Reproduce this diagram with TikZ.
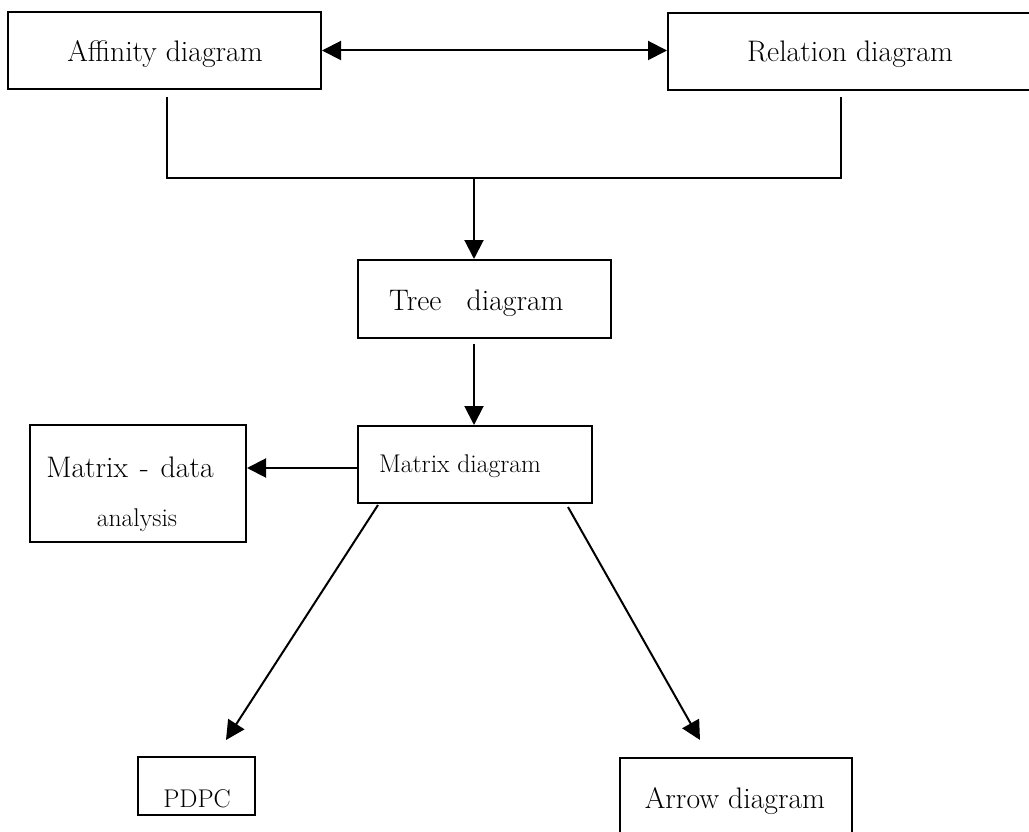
\documentclass[tikz,border=0pt]{standalone}
\usetikzlibrary{arrows.meta}
\begin{document}
\begin{tikzpicture}[x=1pt,y=-1pt,
  box/.style={draw, line width=2pt, inner sep=0pt, rectangle},
  big/.style={inner sep=0pt, font=\fontsize{29.7}{34}\selectfont},
  small/.style={inner sep=0pt, font=\fontsize{25.6}{30}\selectfont},
  conn/.style={line width=2pt},
  arr/.style={conn, -{Triangle[length=19pt,width=19pt]}},
  darr/.style={conn, {Triangle[length=19pt,width=19pt]}-{Triangle[length=19pt,width=19pt]}}
]
\useasboundingbox (0,0) rectangle (1029,832);
\clip (0,0) rectangle (1029,832);
\fill[white] (0,0) rectangle (1029,832);
% boxes
\node[box, minimum width=313pt, minimum height=77pt] (aff) at (164.5,50.5) {};
\node[box, minimum width=370pt, minimum height=77pt] (rel) at (853,51.5) {};
\node[box, minimum width=253pt, minimum height=78pt] (tree) at (484.5,299) {};
\node[box, minimum width=234pt, minimum height=77pt] (mat) at (475,464.5) {};
\node[box, minimum width=216pt, minimum height=117pt] (mda) at (138,483.5) {};
\node[box, minimum width=117pt, minimum height=58pt] (pdpc) at (196.5,786) {};
\node[box, minimum width=232pt, minimum height=92pt] (arw) at (736,804) {};
% texts
\node[big, anchor=base] (taff) at (165,62) {Affinity diagram};
\node[big, anchor=base] (trel) at (850,62) {Relation diagram};
\node[big, anchor=base west] (ttree) at (389,310) {Tree\hspace{0.55em} diagram};
\node[small, anchor=base] (tmat) at (460,472) {Matrix diagram};
\node[big, anchor=base] (tmda) at (130,477) {Matrix\hspace{0.4em}-\hspace{0.4em}data};
\node[small, anchor=base] (tana) at (137,526) {analysis};
\node[small, anchor=base] (tpd) at (197,807) {PDPC};
\node[big, anchor=base] (tarw) at (735,808) {Arrow diagram};
% connector points
\coordinate (a1) at (167,97);
\coordinate (r1) at (841,97);
\coordinate (j) at (474,178);
\coordinate (m1) at (378,505);
\coordinate (m2) at (568,507);
\coordinate (p1) at (226,740);
\coordinate (w1) at (700,740);
% connectors
\draw[darr] (aff.east) -- (aff.east -| rel.west);
\draw[conn] (a1) |- (j) -| (r1);
\draw[arr] (j) -- (j |- tree.north);
\draw[arr] (j |- tree.south) ++(0,5) -- (j |- mat.north);
\draw[arr] (mat.west |- 0,468) -- (mda.east |- 0,468);
\draw[arr] (m1) -- (p1);
\draw[arr] (m2) -- (w1);
\end{tikzpicture}
\end{document}
